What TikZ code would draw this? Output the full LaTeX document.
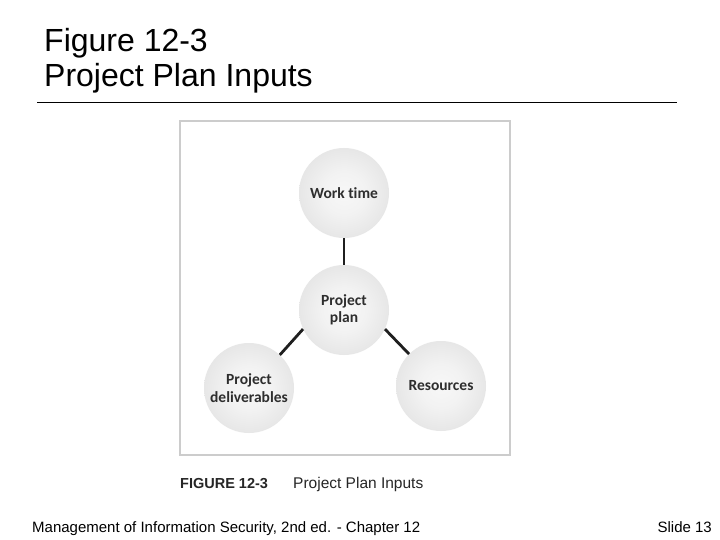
\documentclass[tikz,border=0pt]{standalone}
\usepackage{fontspec}
\setmainfont{Liberation Sans}
\newfontfamily\circfont{Carlito}[Ligatures={NoCommon}]
\pgfdeclareradialshading{softball}{\pgfpoint{0bp}{0bp}}{%
  color(0bp)=(black!3); color(12bp)=(black!5); color(32bp)=(black!12); color(45bp)=(black!19); color(50bp)=(black!24)}
\tikzset{
  bubble/.style={circle, minimum size=90pt, inner sep=0pt, shading=softball,
    font=\circfont\bfseries\fontsize{15.5}{17.5}\selectfont, text=black!82, align=center},
  conn/.style={line width=2.8pt, draw=black!88},
  titletext/.style={anchor=base west, inner sep=0pt, font=\fontsize{32}{32}\selectfont},
  foot/.style={inner sep=0pt, font=\fontsize{15}{15}\selectfont}
}
\begin{document}
\begin{tikzpicture}[x=1pt,y=-1pt]
\useasboundingbox[fill=white] (0,0) rectangle (720,540);
% title
\node[titletext] (t1) at (44,52) {Figure 12-3};
\node[titletext] (t2) at (44,87) {Project Plan Inputs};
\draw[line width=1.2pt] (37,102.5) -- (677,102.5);
% figure frame
\draw[draw=black!20, line width=2pt] (180,121) rectangle (510,455);
% circles
\node[bubble] (work) at (344,193) {Work time};
\node[bubble] (plan) at (344,310) {Project\\plan};
\node[bubble] (deliv) at (249,388) {Project\\deliverables};
\node[bubble] (res) at (441,386) {Resources};
% connectors
\draw[conn] (work.south) -- (plan.north);
\draw[conn] (plan.-155) -- (deliv.47);
\draw[conn] (plan.-25) -- (res.135);
% caption
\node[anchor=base west, inner sep=0pt, font=\bfseries\fontsize{14.5}{14.5}\selectfont, text=black!85] (capA) at (180,488) {FIGURE 12-3};
\node[anchor=base west, inner sep=0pt, font=\fontsize{15.5}{15.5}\selectfont, text=black!85] (capB) at (293,488) {Project Plan Inputs};
% footer
\node[foot, anchor=base west] (f1) at (32,532) {Management of Information Security, 2nd ed. - Chapter 12};
\node[foot, anchor=base east] (f2) at (712,532) {Slide 13};
\end{tikzpicture}
\end{document}
